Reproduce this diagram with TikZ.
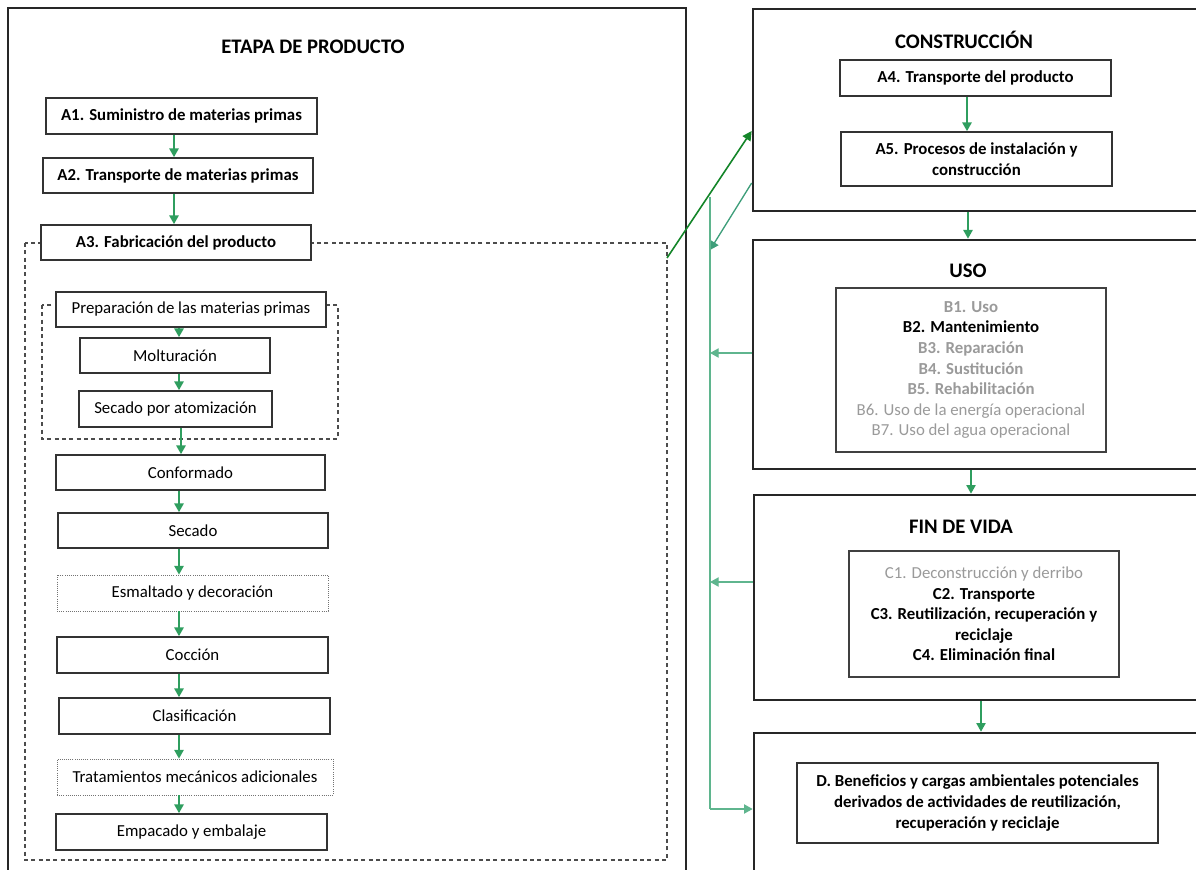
\documentclass[tikz,border=0pt]{standalone}
\usepackage{fontspec}
\setmainfont{Carlito}
\usetikzlibrary{arrows.meta}
\definecolor{garr}{HTML}{2F9E5F}
\definecolor{gline}{HTML}{5FB58E}
\definecolor{gteal}{HTML}{3E9E7A}
\definecolor{gdark}{HTML}{15862A}
\definecolor{txtgray}{HTML}{9A9A9A}
\newcommand\mybox[7]{%
  \pgfmathsetmacro\mybw{(#5-#3)*0.75}%
  \pgfmathsetmacro\mybh{(#6-#4)*0.75}%
  \node[#1, minimum width=\mybw pt, minimum height=\mybh pt] (#2) at ({(#3+#5)/2},{(#4+#6)/2}) {#7};}
\tikzset{
  frame/.style={draw=black!85, line width=2pt, inner sep=0pt},
  box/.style={draw=black!80, line width=1.3pt, fill=white, inner sep=0pt, align=center, font=\fontsize{12.6}{15.4}\selectfont},
  bbox/.style={box, font=\bfseries\fontsize{12.6}{15.4}\selectfont},
  dotbox/.style={box, draw=black!55, line width=0.6pt, densely dotted},
  dashframe/.style={draw=black!70, line width=0.8pt, dash pattern=on 3pt off 2.5pt},
  ttl/.style={font=\bfseries\fontsize{15.5}{18}\selectfont},
  garrow/.style={draw=garr, line width=1.1pt, -{Triangle[width=7pt,length=6.5pt]}},
  glink/.style={draw=gline, line width=0.9pt},
  glarrow/.style={glink, -{Triangle[width=7pt,length=6.5pt]}},
  gtarrow/.style={draw=gteal, line width=1pt, -{Triangle[width=7pt,length=6.5pt]}},
  gdarrow/.style={draw=gdark, line width=1.2pt, -{Triangle[width=7pt,length=7pt]}},
}
\begin{document}
\begin{tikzpicture}[x=0.75pt,y=-0.75pt]
\useasboundingbox (0,0) rectangle (1196,870);
% ---------- left: product stage ----------
\mybox{frame}{frameL}{8}{8}{686}{880}{}
\node[ttl] (titleP) at (313,47) {ETAPA DE PRODUCTO};
\mybox{bbox}{a1}{46}{98}{317}{134}{A1. Suministro de materias primas}
\mybox{bbox}{a2}{43}{158}{313}{193}{A2. Transporte de materias primas}
\draw[dashframe] (25,243) rectangle (667,860);
\mybox{bbox}{a3}{41}{225}{311}{260}{A3. Fabricación del producto}
\draw[dashframe] (42,305) rectangle (338,439);
\mybox{box}{prep}{56}{292}{326}{327}{Preparación de las materias primas}
\mybox{box}{mol}{80}{338}{270}{373}{Molturación}
\mybox{box}{sec}{79}{391}{272}{427}{Secado por atomización}
\mybox{box}{conf}{56}{455}{325}{490}{Conformado}
\mybox{box}{seca}{58}{513}{328}{548}{Secado}
\mybox{dotbox}{esm}{57}{575}{328}{611}{Esmaltado y decoración}
\mybox{box}{coc}{57}{637}{328}{673}{Cocción}
\mybox{box}{cla}{59}{698}{330}{734}{Clasificación}
\mybox{dotbox}{tra}{57}{759}{333}{795}{Tratamientos mecánicos adicionales}
\mybox{box}{emp}{56}{814}{327}{850}{Empacado y embalaje}
\coordinate (ax1) at (174,0);
\coordinate (ax) at (179,0);
\coordinate (ax2) at (181,0);
\draw[garrow] (ax1 |- a1.south) -- (ax1 |- a2.north);
\draw[garrow] (ax1 |- a2.south) -- (ax1 |- a3.north);
\draw[garrow] (ax |- prep.south) -- (ax |- mol.north);
\draw[garrow] (ax |- mol.south) -- (ax |- sec.north);
\draw[garrow] (ax2 |- sec.south) -- (ax2 |- conf.north);
\draw[garrow] (ax |- conf.south) -- (ax |- seca.north);
\draw[garrow] (ax |- seca.south) -- (ax |- esm.north);
\draw[garrow] (ax |- esm.south) -- (ax |- coc.north);
\draw[garrow] (ax |- coc.south) -- (ax |- cla.north);
\draw[garrow] (ax |- cla.south) -- (ax |- tra.north);
\draw[garrow] (ax |- tra.south) -- (ax |- emp.north);
% ---------- right: construction ----------
\mybox{frame}{frameC}{753}{9}{1210}{211}{}
\node[ttl] (titleC) at (964,40) {CONSTRUCCIÓN};
\mybox{bbox}{a4}{840}{60}{1111}{96}{A4. Transporte del producto}
\mybox{bbox}{a5}{841}{132}{1112}{186}{A5. Procesos de instalación y\\construcción}
% ---------- use ----------
\mybox{frame}{frameU}{753}{240}{1210}{469}{}
\node[ttl] (titleU) at (968,271) {USO};
\mybox{box, draw=black!75}{uso}{836}{288}{1106}{452}{%
{\color{txtgray}\bfseries B1. Uso}\\
{\bfseries B2. Mantenimiento}\\
{\color{txtgray}\bfseries B3. Reparación}\\
{\color{txtgray}\bfseries B4. Sustitución}\\
{\color{txtgray}\bfseries B5. Rehabilitación}\\
{\color{txtgray}B6. Uso de la energía operacional}\\
{\color{txtgray}B7. Uso del agua operacional}}
% ---------- end of life ----------
\mybox{frame}{frameF}{754}{495}{1210}{700}{}
\node[ttl] (titleF) at (961,527) {FIN DE VIDA};
\mybox{box, draw=black!75}{fin}{849}{551}{1119}{677}{%
{\color{txtgray}C1. Deconstrucción y derribo}\\
{\bfseries C2. Transporte}\\
{\bfseries C3. Reutilización, recuperación y}\\
{\bfseries reciclaje}\\
{\bfseries C4. Eliminación final}}
% ---------- D ----------
\mybox{frame}{frameD}{754}{733}{1210}{890}{}
\mybox{bbox}{dbox}{797}{763}{1158}{843}{D. Beneficios y cargas ambientales potenciales\\derivados de actividades de reutilización,\\recuperación y reciclaje}
% right-column arrows
\coordinate (bx1) at (967,0);
\coordinate (bx2) at (968,0);
\coordinate (bx3) at (971,0);
\coordinate (bx4) at (981,0);
\draw[garrow] (bx1 |- a4.south) -- (bx1 |- a5.north);
\draw[garrow] (bx2 |- frameC.south) -- (bx2 |- frameU.north);
\draw[garrow] (bx3 |- frameU.south) -- (bx3 |- frameF.north);
\draw[garrow] (bx4 |- frameF.south) -- (bx4 |- frameD.north);
% green links between stages
\coordinate (gs) at (667,258);
\coordinate (gy1) at (0,131);
\coordinate (gy2) at (0,183);
\coordinate (vx) at (710,0);
\coordinate (vtop) at (710,197);
\coordinate (vin) at (710,250);
\coordinate (gy4) at (0,353);
\coordinate (gy5) at (0,582);
\coordinate (gy6) at (0,809);
\draw[gdarrow] (gs) -- (frameC.west |- gy1);
\draw[gtarrow] (frameC.west |- gy2) -- (vin);
\draw[glink] (vtop) -- (vx |- gy6);
\draw[glarrow] (vx |- gy6) -- (frameD.west |- gy6);
\draw[glarrow] (frameU.west |- gy4) -- (vx |- gy4);
\draw[glarrow] (frameF.west |- gy5) -- (vx |- gy5);
\end{tikzpicture}
\end{document}
